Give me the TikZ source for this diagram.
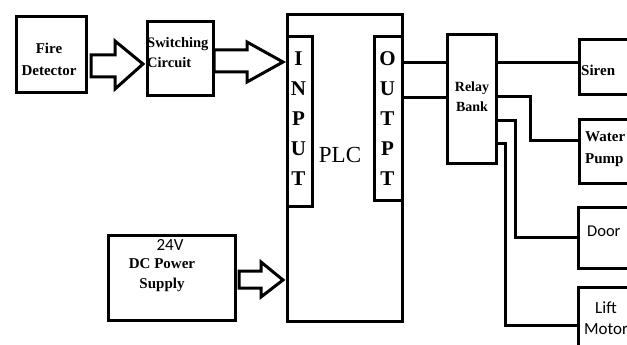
\documentclass[tikz,border=0pt]{standalone}
\usepackage{fontspec}
\setmainfont{Liberation Serif}
\newfontfamily\calib{Carlito}
\begin{document}
\begin{tikzpicture}[x=1pt,y=-1pt,
  blk/.style={draw, line width=3pt, inner sep=0pt, anchor=north west, fill=white},
  txt/.style={inner sep=0pt, align=center},
  wire/.style={draw, line width=3pt, line join=miter},
  barrow/.style={draw, line width=3pt, fill=white, line join=miter},
  serb/.style={font=\bfseries\fontsize{15}{20}\selectfont},
  cal/.style={font=\calib\fontsize{16.5}{21}\selectfont}]
\useasboundingbox (0,0) rectangle (627,345);
\clip (0,0) rectangle (627,345);

% boxes
\node[blk, minimum width=70pt, minimum height=76pt] (fd) at (14.5,15.5) {};
\node[blk, minimum width=66pt, minimum height=74pt] (sw) at (145.5,20.5) {};
\node[blk, minimum width=115pt, minimum height=306pt] (plc) at (286,13.5) {};
\node[blk, minimum width=25pt, minimum height=169pt] (inp) at (286,35.5) {};
\node[blk, minimum width=28pt, minimum height=163pt] (outp) at (373,35.5) {};
\node[blk, minimum width=49pt, minimum height=128pt] (relay) at (445.5,33.5) {};
\node[blk, minimum width=100pt, minimum height=55pt] (siren) at (577.5,38.5) {};
\node[blk, minimum width=100pt, minimum height=64pt] (water) at (577.5,117.5) {};
\node[blk, minimum width=100pt, minimum height=61pt] (door) at (576.5,205.5) {};
\node[blk, minimum width=100pt, minimum height=90pt] (lift) at (576.5,285.5) {};
\node[blk, minimum width=127pt, minimum height=85pt] (dc) at (106.5,233.5) {};

% texts
\node[txt, font=\bfseries\fontsize{15}{22}\selectfont] (fdt) at (49,59) {Fire\\Detector};
\node[txt, font=\bfseries\fontsize{14.5}{20}\selectfont, anchor=west, align=left] (swt) at (147,53) {Switching\\Circuit};
\node[txt, font=\bfseries\fontsize{21}{30}\selectfont] (inpt) at (298.5,119) {I\\N\\P\\U\\T};
\node[txt, font=\bfseries\fontsize{21}{30}\selectfont] (outpt) at (387.5,119) {O\\U\\T\\P\\T};
\node[txt, font=\fontsize{23}{24}\selectfont] (plct) at (340,155) {PLC};
\node[txt, font=\bfseries\fontsize{14}{20}\selectfont] (relayt) at (472,97) {Relay\\Bank};
\node[txt, serb, anchor=west] (sirent) at (581,70) {Siren};
\node[txt, font=\bfseries\fontsize{15}{22}\selectfont, anchor=west, align=left] (watert) at (585,149) {Water\\Pump};
\node[txt, cal, anchor=west] (doort) at (587,231) {Door};
\node[txt, cal, font=\calib\fontsize{17}{21}\selectfont] (liftt) at (606,318) {Lift\\Motor};
\node[txt, font=\calib\fontsize{17}{20}\selectfont] (dcv) at (170,245) {24V};
\node[txt, font=\bfseries\fontsize{15}{20}\selectfont] (dct) at (162,275) {DC Power\\Supply};

% block arrows
\draw[barrow] (91,55) -- (115,55) -- (115,41) -- (143,64) -- (115,89) -- (115,77) -- (91,77) -- cycle;
\draw[barrow] (214,50) -- (247,50) -- (247,42) -- (283,62) -- (247,82) -- (247,72) -- (214,72) -- cycle;
\draw[barrow] (239,271) -- (261,271) -- (261,262) -- (283,280) -- (261,297) -- (261,288) -- (239,288) -- cycle;

% wires
\draw[wire] (outp.east |- 0,63) -- (relay.west |- 0,63);
\draw[wire] (outp.east |- 0,98) -- (relay.west |- 0,98);
\draw[wire] (relay.east |- 0,63) -- (siren.west |- 0,63);
\draw[wire] (relay.east |- 0,97) -| (530,140) -- (water.west |- 0,140);
\draw[wire] (relay.east |- 0,120) -| (515,237) -- (door.west |- 0,237);
\draw[wire] (relay.east |- 0,143) -| (505,325) -- (lift.west |- 0,325);
\end{tikzpicture}
\end{document}
